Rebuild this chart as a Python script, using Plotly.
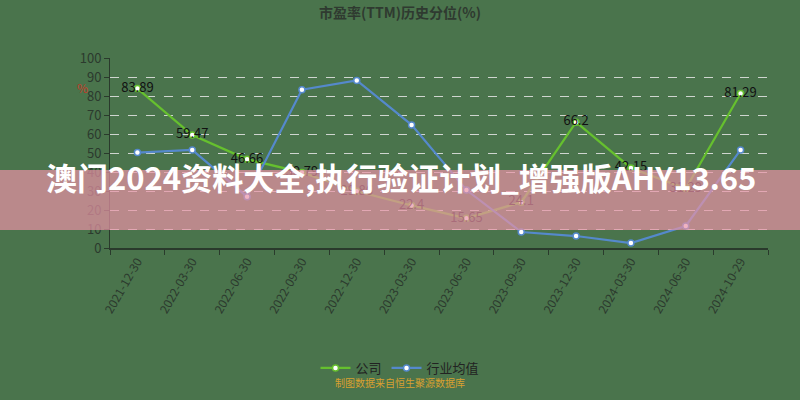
import plotly.graph_objects as go

dates = ["2021-12-30", "2022-03-30", "2022-06-30", "2022-09-30", "2022-12-30",
         "2023-03-30", "2023-06-30", "2023-09-30", "2023-12-30", "2024-03-30",
         "2024-06-30", "2024-10-29"]
company = [83.89, 59.47, 46.66, 39.79, 29.86, 22.4, 15.65, 24.1, 66.2, 42.15, 31.29, 81.29]
industry = [50.2, 51.6, 27.0, 83.3, 88.2, 64.8, 30.5, 8.4, 6.3, 2.6, 11.6, 51.6]
y_ticks = list(range(0, 101, 10))

title_text = "市盈率(TTM)历史分位(%)"
banner_text = "澳门2024资料大全,执行验证计划_增强版AHY13.65"
source_text = "制图数据来自恒生聚源数据库"

BG = "#4a744c"
GREEN = "#66c02e"
BLUE = "#5589cc"
FONT = "Noto Sans CJK SC"

fig = go.Figure()
fig.add_trace(go.Scatter(
    x=dates, y=company, name="公司", mode="lines+markers+text",
    line=dict(color=GREEN, width=2.2),
    marker=dict(size=6, color="white", line=dict(color=GREEN, width=1.5)),
    text=[f"{v:g}" for v in company], textposition="middle center",
    textfont=dict(family=FONT, size=13, color="#111111"),
))
fig.add_trace(go.Scatter(
    x=dates, y=industry, name="行业均值", mode="lines+markers",
    line=dict(color=BLUE, width=2.2),
    marker=dict(size=6, color="white", line=dict(color=BLUE, width=1.5)),
))

fig.update_layout(
    width=800, height=400,
    margin=dict(l=110, r=32, t=58, b=152, autoexpand=False),
    paper_bgcolor=BG, plot_bgcolor=BG,
    font=dict(family=FONT, color="#2c3a2e"),
    title=dict(text=f"<b>{title_text}</b>", x=0.5, xanchor="center",
               y=1 - 13 / 400, yanchor="middle",
               font=dict(family=FONT, size=14, color="#2f3a30")),
    showlegend=True,
    legend=dict(orientation="h", x=(400 - 110) / 658, xanchor="center", y=(248 - 368) / 190,
                yanchor="middle",
                font=dict(family=FONT, size=13, color="#222"), bgcolor="rgba(0,0,0,0)"),
    xaxis=dict(type="category", categoryorder="array", categoryarray=dates,
               range=[-0.5, len(dates) - 0.5], tickson="boundaries", automargin=False,
               showline=True, linecolor="#2a3a2c", linewidth=1.5,
               ticks="outside", ticklen=5, tickcolor="#2a3a2c",
               tickangle=-60, tickfont=dict(family=FONT, size=12, color="#2c3a2e"),
               showgrid=False, zeroline=False),
    yaxis=dict(range=[0, 100], tickvals=y_ticks, showline=True, linecolor="#2a3a2c",
               automargin=False,
               linewidth=1, ticks="outside", ticklen=5, tickcolor="#2a3a2c",
               tickfont=dict(family=FONT, size=13, color="#2c3a2e"),
               showgrid=True, gridcolor="rgba(230,230,230,0.85)", griddash="dash",
               gridwidth=1, zeroline=False),
)

fig.add_annotation(text="%", xref="paper", yref="paper", x=(75 - 110) / 658, y=(248 - 77) / 190,
                   showarrow=False, font=dict(family=FONT, size=12, color="#c23a2a"))

fig.add_shape(type="rect", xref="paper", yref="paper", x0=-0.2, x1=1.1,
              y0=(248 - 230) / 190, y1=(248 - 170) / 190, fillcolor="rgba(233,147,166,0.7)",
              line=dict(width=0), layer="above")
fig.add_annotation(text=f"<b>{banner_text}</b>", xref="paper", yref="paper",
                   x=(401 - 110) / 658, y=(248 - 201) / 190, showarrow=False,
                   font=dict(family=FONT, size=31, color="white"))
fig.add_annotation(text=source_text, xref="paper", yref="paper",
                   x=(400 - 110) / 658, y=(248 - 392) / 190, showarrow=False,
                   font=dict(family=FONT, size=10, color="#d9a030"))

fig.write_html("out.html", config={"displayModeBar": False},
               post_script="document.body.style.margin='0';document.body.style.background='%s';" % BG)
